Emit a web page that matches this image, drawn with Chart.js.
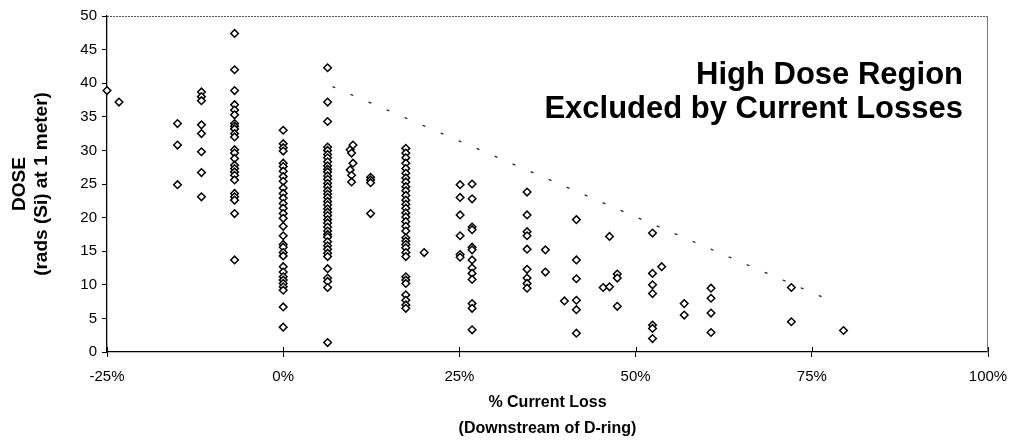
<!DOCTYPE html>
<html>
<head>
<meta charset="utf-8">
<script src="https://cdn.jsdelivr.net/npm/chart.js@4"></script>
<style>
  html, body { margin: 0; padding: 0; background: #fff; }
  #wrap { width: 1012px; height: 441px; position: relative; }
</style>
</head>
<body>
<div id="wrap"><canvas id="c"></canvas></div>
<script>
// % current loss (x position of each column of measurements)
const lossColumns = [-25, -23.3, -15.0, -11.6, -6.9, 0, 6.3, 9.5, 9.7, 9.9, 12.4, 17.4, 20.0, 25.1, 26.8, 34.6, 37.2, 39.9, 41.6, 45.4, 46.3, 47.4, 52.4, 53.7, 56.9, 60.7, 72.1, 79.5];

// dose values (rads (Si) at 1 meter) for each column
const doseAtM25 = [38.9];
const doseAtM23 = [37.2];
const doseAtM15 = [34.0, 30.8, 24.9];
const doseAtM12 = [38.7, 38.0, 37.4, 33.8, 32.5, 29.8, 26.7, 23.1];
const doseAtM7 = [47.4, 42.0, 38.9, 36.8, 36.0, 35.3, 34.0, 33.6, 33.2, 32.5, 32.0, 30.1, 29.6, 28.8, 27.8, 27.3, 26.8, 26.3, 25.6, 23.6, 23.1, 22.6, 20.6, 13.7];
const doseAt0 = [33.0, 31.0, 30.4, 29.9, 28.1, 27.6, 26.9, 26.1, 25.4, 24.4, 23.6, 22.9, 22.1, 21.4, 20.6, 19.9, 18.7, 17.3, 16.0, 15.6, 14.8, 14.3, 12.7, 11.9, 11.2, 10.7, 10.2, 9.7, 9.2, 6.7, 3.7];
const doseAt6 = [42.3, 37.2, 34.3, 30.5, 30.0, 29.4, 28.9, 28.3, 27.7, 27.2, 26.8, 26.2, 25.7, 25.1, 24.6, 24.0, 23.5, 23.0, 22.4, 21.9, 21.3, 20.8, 20.3, 19.7, 19.2, 18.6, 18.0, 17.5, 17.1, 16.4, 15.8, 15.3, 14.7, 14.2, 12.4, 11.0, 10.5, 9.6, 1.4];
const doseAt9a = [30.1, 27.1];
const doseAt9b = [29.6, 26.3, 25.3];
const doseAt9c = [30.8, 28.1];
const doseAt12 = [26.0, 25.6, 25.2, 20.6];
const doseAt17 = [30.3, 29.6, 28.9, 28.1, 27.3, 26.6, 25.9, 25.3, 24.6, 24.0, 23.3, 22.6, 22.0, 21.4, 20.7, 20.1, 19.4, 18.7, 18.0, 17.0, 16.5, 16.0, 15.5, 14.8, 14.2, 11.2, 10.7, 10.2, 8.5, 7.7, 7.0, 6.5];
const doseAt20 = [14.8];
const doseAt25 = [24.9, 23.0, 20.4, 17.3, 14.5, 14.1];
const doseAt27 = [25.0, 22.8, 18.6, 18.2, 15.6, 15.2, 13.7, 12.5, 11.7, 10.8, 7.2, 6.5, 3.3];
const doseAt35 = [23.8, 20.4, 17.9, 17.3, 15.3, 12.3, 11.0, 10.2, 9.5];
const doseAt37 = [15.2, 11.9];
const doseAt40 = [7.6];
const doseAt42 = [19.7, 13.7, 10.9, 7.7, 6.3, 2.8];
const doseAt45 = [9.6];
const doseAt46 = [17.2, 9.7];
const doseAt47 = [11.6, 11.0, 6.8];
const doseAt52 = [17.7, 11.7, 10.0, 8.7, 4.0, 3.5, 2.0];
const doseAt54 = [12.7];
const doseAt57 = [7.2, 5.5];
const doseAt61 = [9.5, 8.0, 5.8, 2.9];
const doseAt72 = [9.6, 4.5];
const doseAt80 = [3.2];

const doseColumns = [doseAtM25, doseAtM23, doseAtM15, doseAtM12, doseAtM7, doseAt0, doseAt6, doseAt9a, doseAt9b, doseAt9c, doseAt12, doseAt17, doseAt20, doseAt25, doseAt27, doseAt35, doseAt37, doseAt40, doseAt42, doseAt45, doseAt46, doseAt47, doseAt52, doseAt54, doseAt57, doseAt61, doseAt72, doseAt80];

// dotted boundary of the excluded high-dose region
const boundaryLoss = [7, 78];
const boundaryDose = [39.5, 7.5];

// axis ticks
const xTickValues = [-25, 0, 25, 50, 75, 100];
const xTickLabels = ['-25%', '0%', '25%', '50%', '75%', '100%'];

const annotationLines = ['High Dose Region', 'Excluded by Current Losses'];

const points = [];
lossColumns.forEach((x, i) => doseColumns[i].forEach(y => points.push({x: x, y: y})));
const boundary = boundaryLoss.map((x, i) => ({x: x, y: boundaryDose[i]}));

const FONT = '"Liberation Sans", Arial, Helvetica, sans-serif';

const framePlugin = {
  id: 'frame',
  afterDraw(chart) {
    const {ctx, chartArea: {left, right, top, bottom}, scales: {x}} = chart;
    ctx.save();
    // top border (dotted grey)
    ctx.strokeStyle = '#555';
    ctx.lineWidth = 1;
    ctx.setLineDash([2, 1]);
    ctx.beginPath();
    ctx.moveTo(left, top + 0.5);
    ctx.lineTo(right, top + 0.5);
    ctx.stroke();
    ctx.setLineDash([]);
    // right border
    ctx.strokeStyle = '#777';
    ctx.beginPath();
    ctx.moveTo(right - 0.5, top);
    ctx.lineTo(right - 0.5, bottom);
    ctx.stroke();
    // inner half of x tick marks (ticks cross the axis)
    ctx.strokeStyle = '#000';
    ctx.beginPath();
    x.ticks.forEach(t => {
      const px = Math.round(x.getPixelForValue(t.value)) + 0.5;
      ctx.moveTo(px, bottom - 5);
      ctx.lineTo(px, bottom);
    });
    ctx.stroke();
    // annotation
    ctx.fillStyle = '#000';
    ctx.font = 'bold 31px ' + FONT;
    ctx.textAlign = 'right';
    ctx.textBaseline = 'middle';
    ctx.fillText(annotationLines[0], 963, 75);
    ctx.fillText(annotationLines[1], 963, 109);
    ctx.restore();
  }
};

new Chart(document.getElementById('c'), {
  type: 'scatter',
  data: {
    datasets: [
      {
        label: 'Dose',
        data: points,
        pointStyle: 'rectRot',
        pointRadius: 3.8,
        pointHoverRadius: 3.8,
        pointBorderWidth: 1.5,
        pointBorderColor: '#000',
        pointBackgroundColor: '#fff',
        showLine: false,
        clip: false
      },
      {
        label: 'Boundary',
        data: boundary,
        showLine: true,
        borderColor: '#222',
        borderWidth: 1.3,
        borderDash: [3, 16.6],
        pointRadius: 0,
        fill: false
      }
    ]
  },
  options: {
    responsive: true,
    maintainAspectRatio: false,
    animation: false,
    events: [],
    layout: { padding: { top: 16, right: 24, bottom: 0, left: 0 } },
    plugins: {
      legend: { display: false },
      tooltip: { enabled: false },
      title: { display: false }
    },
    scales: {
      x: {
        type: 'linear',
        min: -25,
        max: 100,
        afterFit(scale) { scale.height = 89; scale.paddingLeft = 0; scale.paddingRight = 0; },
        afterBuildTicks(scale) { scale.ticks = xTickValues.map(v => ({value: v})); },
        ticks: {
          color: '#000',
          font: { family: FONT, size: 15 },
          padding: 11,
          maxRotation: 0,
          autoSkip: false,
          callback: (v) => xTickLabels[xTickValues.indexOf(v)] ?? ''
        },
        grid: {
          drawOnChartArea: false,
          drawTicks: true,
          tickLength: 5,
          color: '#000',
          lineWidth: 1
        },
        border: { display: true, color: '#000', width: 1.3 },
        title: {
          display: true,
          text: ['% Current Loss', '(Downstream of D-ring)'],
          color: '#000',
          font: { family: FONT, size: 16, weight: 'bold', lineHeight: 1.625 },
          padding: { top: 0, bottom: -1 }
        }
      },
      y: {
        type: 'linear',
        min: 0,
        max: 50,
        afterFit(scale) { scale.width = 107; },
        ticks: {
          stepSize: 5,
          color: '#000',
          font: { family: FONT, size: 15 },
          padding: 5
        },
        grid: {
          drawOnChartArea: false,
          drawTicks: true,
          tickLength: 5,
          color: '#000',
          lineWidth: 1
        },
        border: { display: true, color: '#000', width: 1.3 },
        title: {
          display: true,
          text: ['DOSE', '(rads (Si) at 1 meter)'],
          color: '#000',
          font: { family: FONT, size: 19, weight: 'bold', lineHeight: 1.16 },
          padding: { top: 9, bottom: 0 }
        }
      }
    }
  },
  plugins: [framePlugin]
});
</script>
</body>
</html>
